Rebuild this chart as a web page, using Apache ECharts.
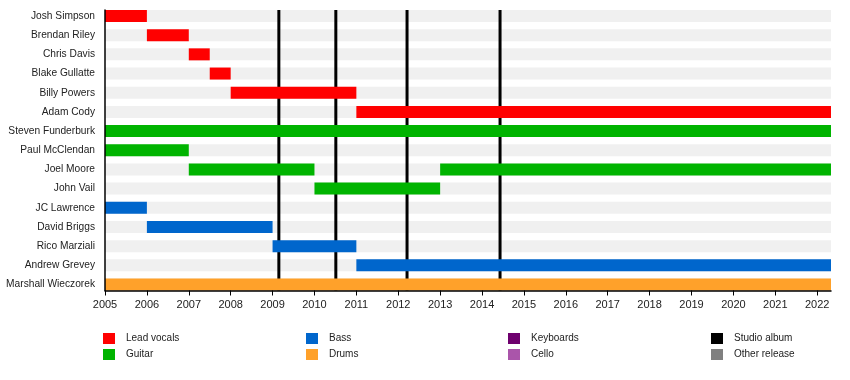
<!DOCTYPE html>
<html>
<head>
<meta charset="utf-8">
<script src="https://cdn.jsdelivr.net/npm/echarts@6/dist/echarts.min.js"></script>
<style>html,body{margin:0;padding:0;background:#fff}#c{width:850px;height:380px}</style>
</head>
<body>
<div id="c"></div>
<script>
// Members (top to bottom)
const members = ["Josh Simpson","Brendan Riley","Chris Davis","Blake Gullatte","Billy Powers","Adam Cody","Steven Funderburk","Paul McClendan","Joel Moore","John Vail","JC Lawrence","David Briggs","Rico Marziali","Andrew Grevey","Marshall Wieczorek"];
// Timeline periods: [member index, start, end]
const leadVocals = [[0,2005,2006],[1,2006,2007],[2,2007,2007.5],[3,2007.5,2008],[4,2008,2011],[5,2011,2022.33]];
const guitar = [[6,2005,2022.33],[7,2005,2007],[8,2007,2010],[8,2013,2022.33],[9,2010,2013]];
const bass = [[10,2005,2006],[11,2006,2009],[12,2009,2011],[13,2011,2022.33]];
const drums = [[14,2005,2022.33]];
const keyboards = [];
const cello = [];
// Studio album release dates
const studioAlbums = [2009.15, 2010.51, 2012.21, 2014.43];
const otherReleases = [];
// Axis range and ticks
const startYear = 2005;
const endYear = 2022.33;
const yearTicks = [2005,2006,2007,2008,2009,2010,2011,2012,2013,2014,2015,2016,2017,2018,2019,2020,2021,2022];

const colors = {
  "Lead vocals":"#ff0000","Guitar":"#00b400","Bass":"#0066cc","Drums":"#ffa12a",
  "Keyboards":"#6e006e","Cello":"#aa55aa","Studio album":"#000000","Other release":"#808080"
};
const yMin = -0.313, yMax = members.length - 1 + 0.313;
const BAR_H = 12;

function barRender(params, api) {
  const s = api.coord([api.value(1), api.value(0)]);
  const e = api.coord([api.value(2), api.value(0)]);
  return {type:'rect', shape:{x:s[0], y:s[1]-BAR_H/2, width:e[0]-s[0], height:BAR_H},
    style:{fill: api.visual('color')}};
}
function lineRender(params, api) {
  const a = api.coord([api.value(0), yMin]);
  const b = api.coord([api.value(0), yMax]);
  return {type:'line', shape:{x1:a[0], y1:a[1], x2:b[0], y2:b[1]},
    style:{stroke: api.visual('color'), lineWidth:3}};
}
function roleSeries(name, data) {
  return {name, type:'custom', renderItem: barRender, data, z:5,
    itemStyle:{color:colors[name]}, encode:{x:[1,2], y:0}, silent:true};
}
const stripData = members.map((m,i)=>[i, startYear, endYear]);

const chart = echarts.init(document.getElementById('c'), null, {renderer:'canvas'});
const legendBase = {orient:'vertical', top:333, padding:0, icon:'rect', itemWidth:12, itemHeight:11, itemGap:5,
  textStyle:{fontFamily:'Liberation Sans', fontSize:10, color:'#222', padding:[2,0,0,6]}, selectedMode:false};
chart.setOption({
  animation:false,
  textStyle:{fontFamily:'Liberation Sans'},
  grid:{left:105, right:19, top:10, bottom:89.5},
  xAxis:{type:'value', min:startYear, max:endYear, z:10,
    axisLine:{onZero:false, lineStyle:{color:'#000', width:1.5}},
    axisTick:{show:true, length:5, lineStyle:{color:'#000'}, customValues: yearTicks},
    axisLabel:{customValues: yearTicks, fontSize:11, color:'#222', margin:9, formatter:v=>String(Math.round(v))},
    splitLine:{show:false}},
  yAxis:{type:'value', inverse:true, min:yMin, max:yMax, z:10,
    axisLine:{show:true, onZero:false, lineStyle:{color:'#000', width:1.5}},
    axisTick:{show:false},
    axisLabel:{customValues: members.map((m,i)=>i), fontSize:10.2, color:'#222', margin:10,
      formatter:v=>members[Math.round(v)]},
    splitLine:{show:false}},
  legend:[
    Object.assign({left:103, data:["Lead vocals","Guitar"]}, legendBase),
    Object.assign({left:306, data:["Bass","Drums"]}, legendBase),
    Object.assign({left:508, data:["Keyboards","Cello"]}, legendBase),
    Object.assign({left:711, data:["Studio album","Other release"]}, legendBase)
  ],
  series:[
    {name:'strips', type:'custom', z:1, silent:true, data:stripData, encode:{x:[1,2], y:0},
      itemStyle:{color:'#f0f0f0'}, renderItem: barRender},
    {name:'Studio album', type:'custom', z:3, silent:true, data:studioAlbums.map(v=>[v]), encode:{x:0},
      itemStyle:{color:colors["Studio album"]}, renderItem: lineRender},
    {name:'Other release', type:'custom', z:3, silent:true, data:otherReleases.map(v=>[v]), encode:{x:0},
      itemStyle:{color:colors["Other release"]}, renderItem: lineRender},
    roleSeries("Lead vocals", leadVocals),
    roleSeries("Guitar", guitar),
    roleSeries("Bass", bass),
    roleSeries("Drums", drums),
    roleSeries("Keyboards", keyboards),
    roleSeries("Cello", cello)
  ]
});
</script>
</body>
</html>
